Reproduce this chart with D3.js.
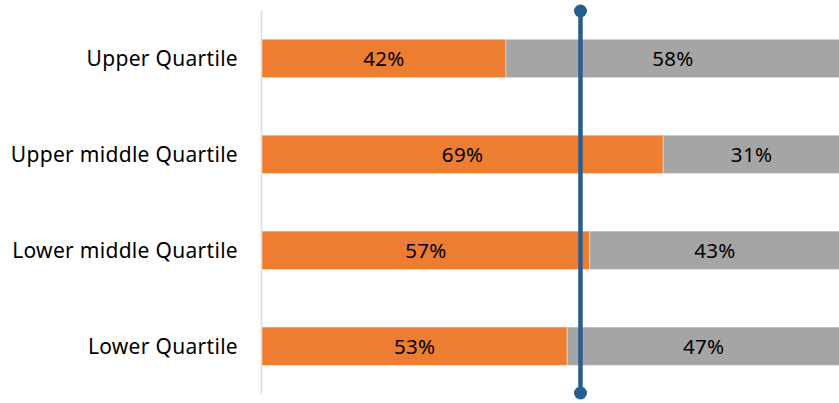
<!DOCTYPE html>
<html>
<head>
<meta charset="utf-8">
<script src="https://cdn.jsdelivr.net/npm/d3@7"></script>
<style>
  html, body { margin: 0; padding: 0; background: #fff; }
  svg { display: block; }
</style>
</head>
<body>
<svg id="chart" width="839" height="403"></svg>
<script>
const categories = ["Upper Quartile", "Upper middle Quartile", "Lower middle Quartile", "Lower Quartile"];
const seriesA = [42.2, 69.4, 56.7, 52.8];
const seriesB = [57.8, 30.6, 43.3, 47.2];
const markerValue = 55.1;

const W = 839, H = 403;
const margin = { top: 10.5, right: -1, bottom: 8.8, left: 262 };
const svg = d3.select("#chart");
const font = "'Noto Sans', sans-serif";

const x = d3.scaleLinear().domain([0, 100]).range([margin.left, W - margin.right]);
const y = d3.scaleBand().domain(categories).range([margin.top, H - margin.bottom]).paddingInner(0.6).paddingOuter(0.3);

const data = categories.map((c, i) => ({ c, a: seriesA[i], b: seriesB[i] }));
const stack = d3.stack().keys(["a", "b"])(data);
const colors = { a: "#ED7D31", b: "#A5A5A5" };

// axis line
svg.append("line")
  .attr("x1", margin.left - 0.5).attr("x2", margin.left - 0.5)
  .attr("y1", margin.top).attr("y2", H - margin.bottom)
  .attr("stroke", "#D9D9D9").attr("stroke-width", 1.5);

const g = svg.append("g");
stack.forEach(s => {
  g.selectAll(null).data(s).enter().append("rect")
    .attr("x", d => x(d[0]))
    .attr("width", d => x(d[1]) - x(d[0]))
    .attr("y", d => y(d.data.c))
    .attr("height", y.bandwidth())
    .attr("fill", colors[s.key])
    .attr("stroke", "rgba(255,255,255,0.5)").attr("stroke-width", 0.75);
  g.selectAll(null).data(s).enter().append("text")
    .attr("x", d => (x(d[0]) + x(d[1])) / 2)
    .attr("y", d => y(d.data.c) + y.bandwidth() / 2)
    .attr("dy", "0.36em")
    .attr("text-anchor", "middle")
    .attr("font-family", font).attr("font-size", 20.5)
    .attr("letter-spacing", 0.3)
    .attr("fill", "#000")
    .text(d => Math.round(d[1] - d[0]) + "%");
});

// category labels
svg.selectAll(".cat").data(categories).enter().append("text")
  .attr("class", "cat")
  .attr("x", 238)
  .attr("y", d => y(d) + y.bandwidth() / 2)
  .attr("dy", "0.36em")
  .attr("text-anchor", "end")
  .attr("font-family", font).attr("font-size", 21)
  .attr("letter-spacing", 0.3)
  .attr("fill", "#000")
  .text(d => d);

// marker line
const mx = x(markerValue);
svg.append("line")
  .attr("x1", mx).attr("x2", mx)
  .attr("y1", 11).attr("y2", 393)
  .attr("stroke", "#255E91").attr("stroke-width", 4.5);
svg.selectAll(".dot").data([11, 393]).enter().append("circle")
  .attr("cx", mx).attr("cy", d => d).attr("r", 6.5)
  .attr("fill", "#255E91");
</script>
</body>
</html>
